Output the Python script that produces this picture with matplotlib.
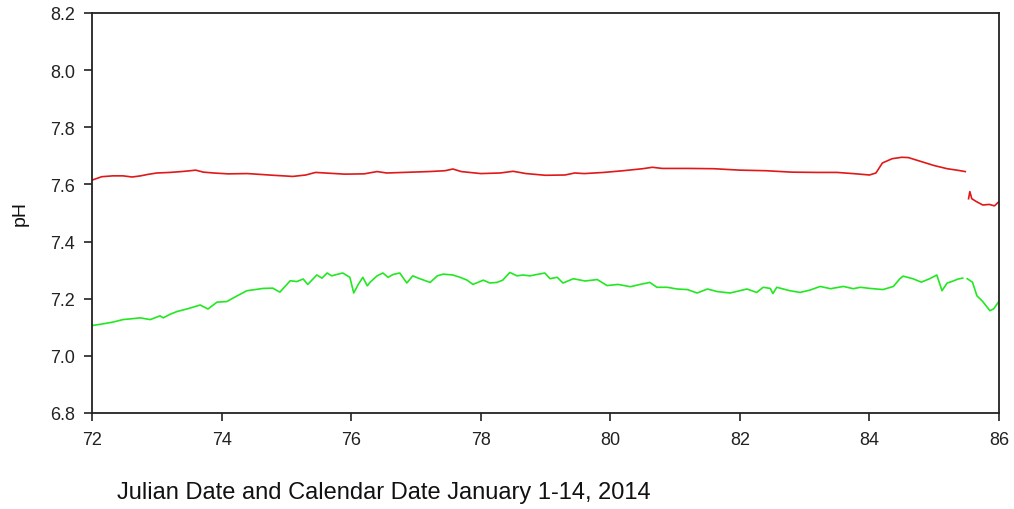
import numpy as np
import matplotlib
matplotlib.use("Agg")
import matplotlib.pyplot as plt

plt.rcParams['font.family'] = ['Liberation Sans', 'DejaVu Sans']

# Red series (upper pH trace)
red_day = [72.00, 72.15, 72.32, 72.48, 72.62, 72.75, 72.86, 73.00, 73.20, 73.38,
           73.52, 73.60, 73.72, 73.88, 74.10, 74.40, 74.80, 75.10, 75.30, 75.45,
           75.60, 75.90, 76.20, 76.40, 76.55, 76.80, 77.20, 77.45, 77.57, 77.70,
           78.00, 78.30, 78.50, 78.70, 79.00, 79.30, 79.45, 79.60, 79.90, 80.20,
           80.50, 80.65, 80.80, 81.20, 81.60, 82.00, 82.40, 82.80, 83.20, 83.50,
           83.80, 84.00, 84.10, 84.20, 84.35, 84.50, 84.60, 84.80, 85.00, 85.20,
           85.35, 85.48, 85.50, 85.53, 85.55, 85.58, 85.65, 85.75, 85.85, 85.93,
           86.00]
red_ph = [7.615, 7.627, 7.630, 7.630, 7.626, 7.630, 7.635, 7.640, 7.642, 7.645,
          7.648, 7.650, 7.643, 7.640, 7.637, 7.638, 7.632, 7.628, 7.633, 7.642,
          7.640, 7.636, 7.637, 7.645, 7.640, 7.642, 7.645, 7.648, 7.654, 7.645,
          7.638, 7.640, 7.646, 7.638, 7.632, 7.633, 7.640, 7.638, 7.642, 7.648,
          7.655, 7.660, 7.656, 7.656, 7.655, 7.650, 7.648, 7.643, 7.642, 7.642,
          7.637, 7.633, 7.640, 7.675, 7.690, 7.695, 7.694, 7.680, 7.666, 7.655,
          7.650, 7.645, np.nan, 7.550, 7.575, 7.550, 7.540, 7.528, 7.530, 7.525,
          7.540]

# Green series (lower pH trace)
green_day = [72.00, 72.17, 72.32, 72.48, 72.62, 72.74, 72.90, 73.05, 73.10, 73.20,
             73.31, 73.48, 73.67, 73.79, 73.93, 74.08, 74.24, 74.39, 74.52, 74.64,
             74.79, 74.90, 75.06, 75.16, 75.26, 75.33, 75.47, 75.55, 75.63, 75.70,
             75.78, 75.87, 75.98, 76.04, 76.11, 76.18, 76.25, 76.29, 76.40, 76.49,
             76.57, 76.65, 76.75, 76.86, 76.95, 77.06, 77.22, 77.33, 77.42, 77.57,
             77.68, 77.79, 77.88, 78.04, 78.14, 78.25, 78.34, 78.45, 78.56, 78.65,
             78.76, 78.87, 78.99, 79.07, 79.18, 79.27, 79.43, 79.61, 79.80, 79.95,
             80.12, 80.31, 80.46, 80.61, 80.72, 80.88, 81.03, 81.19, 81.34, 81.50,
             81.65, 81.85, 82.00, 82.11, 82.26, 82.36, 82.47, 82.51, 82.57, 82.77,
             82.93, 83.08, 83.24, 83.40, 83.60, 83.75, 83.86, 84.01, 84.21, 84.37,
             84.47, 84.52, 84.67, 84.80, 84.93, 85.04, 85.12, 85.20, 85.27, 85.37,
             85.44, 85.48, 85.51, 85.59, 85.66, 85.75, 85.86, 85.92, 85.98, 86.00]
green_ph = [7.106, 7.112, 7.118, 7.127, 7.130, 7.133, 7.127, 7.140, 7.133, 7.145,
            7.155, 7.165, 7.178, 7.164, 7.188, 7.190, 7.210, 7.228, 7.232, 7.236,
            7.237, 7.223, 7.263, 7.260, 7.269, 7.250, 7.283, 7.272, 7.290, 7.280,
            7.285, 7.290, 7.275, 7.220, 7.250, 7.275, 7.245, 7.257, 7.280, 7.290,
            7.275, 7.285, 7.290, 7.255, 7.280, 7.270, 7.257, 7.280, 7.286, 7.283,
            7.275, 7.265, 7.250, 7.265, 7.255, 7.257, 7.265, 7.292, 7.280, 7.283,
            7.280, 7.285, 7.290, 7.270, 7.275, 7.255, 7.270, 7.262, 7.267, 7.246,
            7.250, 7.242, 7.250, 7.257, 7.240, 7.240, 7.234, 7.232, 7.220, 7.234,
            7.225, 7.220, 7.228, 7.234, 7.222, 7.240, 7.236, 7.218, 7.240, 7.228,
            7.222, 7.230, 7.243, 7.235, 7.243, 7.235, 7.240, 7.236, 7.232, 7.243,
            7.270, 7.279, 7.270, 7.258, 7.270, 7.283, 7.228, 7.255, 7.260, 7.269,
            7.272, np.nan, 7.270, 7.258, 7.210, 7.190, 7.158, 7.165, 7.185, 7.190]

xticks = [72, 74, 76, 78, 80, 82, 84, 86]
yticks = [6.8, 7.0, 7.2, 7.4, 7.6, 7.8, 8.0, 8.2]

fig = plt.figure(figsize=(10.14, 5.10), dpi=100)
ax = fig.add_axes([92/1014, 1 - 414/510, (999 - 92)/1014, (414 - 14)/510])

ax.plot(red_day, red_ph, color='#e01818', lw=1.2)
ax.plot(green_day, green_ph, color='#22e822', lw=1.2)

ax.set_xlim(72, 86)
ax.set_ylim(6.8, 8.2)
ax.set_xticks(xticks)
ax.set_xticklabels([str(t) for t in xticks])
ax.set_yticks(yticks)
ax.set_yticklabels([f"{t:.1f}" for t in yticks])
ax.tick_params(direction='out', length=6, width=1.2, labelsize=13, colors='#222222', pad=6)
ax.tick_params(axis='x', pad=7)
for s in ax.spines.values():
    s.set_linewidth(1.3)
    s.set_color('#222222')

fig.text(20/1014, 1 - 213/510, 'pH', rotation=90, ha='center', va='center', fontsize=14, color='#111111')
fig.text(117/1014, 1 - 493/510, 'Julian Date and Calendar Date January 1-14, 2014',
         ha='left', va='center', fontsize=17, color='#111111')

fig.savefig('out.png', dpi=100)
